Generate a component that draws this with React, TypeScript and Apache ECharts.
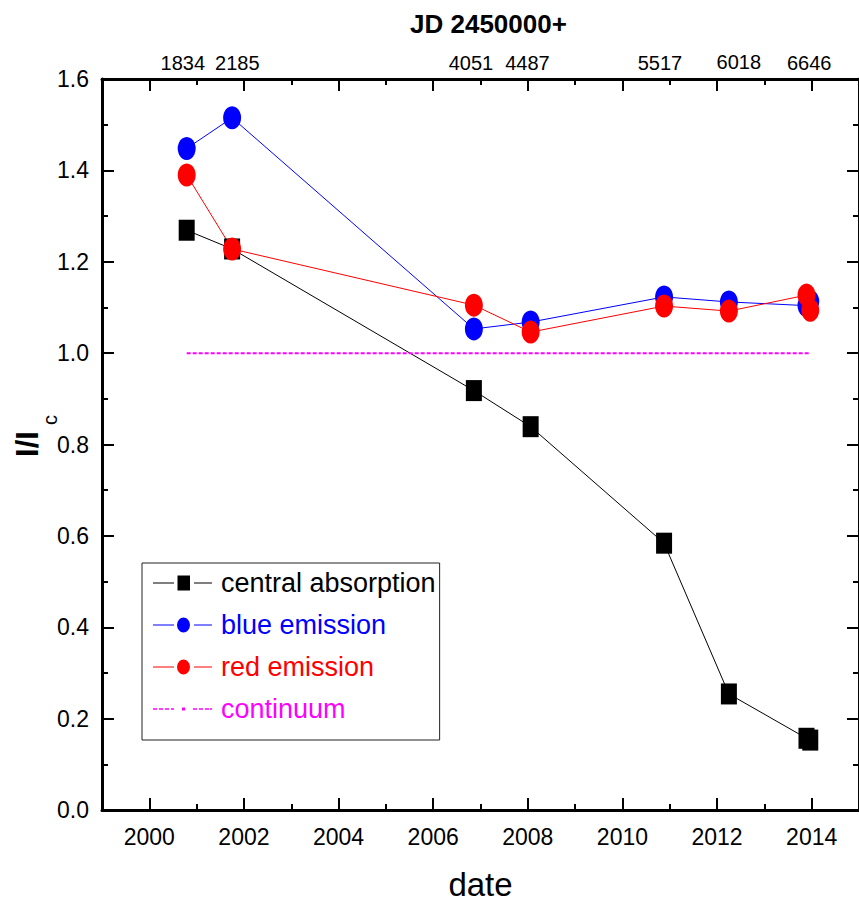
import React, { useEffect, useRef } from "react";
import * as echarts from "echarts";

// JD 2450000+ of the observations (top axis labels)
const jdLabels = [1834, 2185, 4051, 4487, 5517, 6018, 6646];
// observation dates (decimal years)
const dates = [2000.79, 2001.75, 2006.86, 2008.06, 2010.88, 2012.25, 2013.89, 2013.97];
const central = [1.269, 1.228, 0.918, 0.839, 0.584, 0.254, 0.157, 0.153];
const blue = [1.448, 1.515, 1.053, 1.068, 1.123, 1.112, 1.104, 1.113];
const red = [1.39, 1.228, 1.105, 1.046, 1.103, 1.092, 1.127, 1.094];
const continuumX = [2000.79, 2013.97];
const continuumY = [1.0, 1.0];
const yearTicks = [2000, 2002, 2004, 2006, 2008, 2010, 2012, 2014];
const seriesNames = ["central absorption", "blue emission", "red emission", "continuum"];

// horizontal / vertical nudges (px) of the top labels, as placed in the original figure
const jdLabelShiftX = [-4, 5, -3, -3, -4, 10, -1];
const jdLabelShiftY = [0, 0, 0, 0, 0, 1, 0];

const FONT = "'Liberation Sans', Arial, sans-serif";

// JD (2450000+) of 1999.0 and 2015.0
const jdMin = 1544.5 - 365.25;
const jdMax = 1544.5 + 15 * 365.25;

const anchors = "M0 0h0.01v0.01h-0.01z M58.99 15.99h0.01v0.01h-0.01z ";
const iconSquare = "path://" + anchors + "M0 7.5h21v1h-21z M41 7.5h18v1h-18z M24.5 0.5h12.5v15h-12.5z";
const iconCircle = "path://" + anchors + "M0 7.5h21v1h-21z M41 7.5h18v1h-18z M24 8A6.5 7.5 0 1 1 37 8A6.5 7.5 0 1 1 24 8Z";
const iconDash =
  "path://" + anchors +
  "M0 7.2h4v1.6h-4z M6 7.2h4v1.6h-4z M12 7.2h4v1.6h-4z M18 7.2h3v1.6h-3z M29 6.5h3v3h-3z M40 7.2h4v1.6h-4z M46 7.2h4v1.6h-4z M52 7.2h4v1.6h-4z M57 7.2h2v1.6h-2z";

const zip = (xs: number[], ys: number[]) => xs.map((x, i) => [x, ys[i]]);

export default function App() {
  const ref = useRef<HTMLDivElement>(null);
  useEffect(() => {
    document.body.style.margin = "0";
    const chart = echarts.init(ref.current!, undefined, { renderer: "svg" });
    const axisLine = { show: true, lineStyle: { color: "#000", width: 3 } };
    const noLine = { show: false };
    const minorTicks = { show: true, inside: true, length: 6, lineStyle: { color: "#000", width: 2 } };
    const majorTicks = { show: true, inside: true, length: 12, customValues: yearTicks, lineStyle: { color: "#000", width: 2 } };
    const baseX = { type: "value", min: 1999, max: 2015, interval: 1, splitLine: { show: false } };

    const jdRich: Record<string, any> = {};
    jdLabels.forEach((_, i) => {
      const sx = jdLabelShiftX[i];
      const sy = jdLabelShiftY[i];
      jdRich["j" + i] = {
        fontFamily: FONT,
        fontSize: 20,
        color: "#000",
        padding: [0, sx < 0 ? -2 * sx : 0, sy, sx > 0 ? 2 * sx : 0],
      };
    });

    chart.setOption({
      animation: false,
      title: {
        text: "JD 2450000+",
        left: 405,
        top: 6,
        textStyle: { fontFamily: FONT, fontSize: 26, fontWeight: "bold", color: "#000" },
      },
      grid: { left: 102, top: 79, width: 759, height: 731 },
      legend: {
        orient: "vertical",
        left: 142,
        top: 563,
        padding: [5, 4, 16, 11],
        itemGap: 12,
        itemWidth: 59,
        itemHeight: 16,
        borderColor: "#222",
        borderWidth: 1,
        backgroundColor: "#fff",
        selectedMode: false,
        textStyle: { fontFamily: FONT, fontSize: 27, lineHeight: 30, padding: [0, 0, 0, 4] },
        data: [
          { name: seriesNames[0], icon: iconSquare, textStyle: { color: "#000" }, itemStyle: { borderWidth: 0 } },
          { name: seriesNames[1], icon: iconCircle, textStyle: { color: "#0000ff" }, itemStyle: { borderWidth: 0 } },
          { name: seriesNames[2], icon: iconCircle, textStyle: { color: "#ff0000" }, itemStyle: { borderWidth: 0 } },
          { name: seriesNames[3], icon: iconDash, textStyle: { color: "#ff00ff" }, itemStyle: { borderWidth: 0 } },
        ],
      },
      xAxis: [
        {
          ...baseX,
          position: "bottom",
          axisLine,
          axisTick: minorTicks,
          axisLabel: { show: false },
          name: "date",
          nameLocation: "middle",
          nameGap: 58,
          nameTextStyle: { fontFamily: FONT, fontSize: 33, color: "#000" },
        },
        {
          ...baseX,
          position: "bottom",
          axisLine: noLine,
          axisTick: majorTicks,
          axisLabel: {
            show: true,
            customValues: yearTicks,
            hideOverlap: false,
            fontFamily: FONT,
            fontSize: 23,
            color: "#000",
            margin: 15,
            formatter: (v: number) => String(v),
          },
        },
        { ...baseX, position: "top", axisLine, axisTick: minorTicks, axisLabel: { show: false } },
        { ...baseX, position: "top", axisLine: noLine, axisTick: majorTicks, axisLabel: { show: false } },
        {
          type: "value",
          position: "top",
          min: jdMin,
          max: jdMax,
          splitLine: { show: false },
          axisLine: noLine,
          axisTick: { show: false },
          axisLabel: {
            show: true,
            customValues: jdLabels,
            hideOverlap: false,
            showMinLabel: true,
            showMaxLabel: true,
            fontFamily: FONT,
            fontSize: 20,
            color: "#000",
            margin: 6,
            formatter: (v: number) => {
              const i = jdLabels.indexOf(Math.round(v));
              return i >= 0 ? `{j${i}|${Math.round(v)}}` : String(v);
            },
            rich: jdRich,
          },
        },
      ],
      yAxis: [
        {
          type: "value",
          position: "left",
          min: 0,
          max: 1.6,
          interval: 0.2,
          splitLine: { show: false },
          axisLine,
          axisTick: { show: true, inside: true, length: 12, lineStyle: { color: "#000", width: 2 } },
          minorTick: { show: true, splitNumber: 2, length: 6, lineStyle: { color: "#000", width: 2 } },
          axisLabel: {
            fontFamily: FONT,
            fontSize: 23,
            color: "#000",
            margin: 13,
            formatter: (v: number) => v.toFixed(1),
          },
        },
        {
          type: "value",
          position: "right",
          min: 0,
          max: 1.6,
          interval: 0.2,
          splitLine: { show: false },
          axisLine,
          axisTick: { show: true, inside: true, length: 12, lineStyle: { color: "#000", width: 2 } },
          minorTick: { show: true, splitNumber: 2, length: 6, lineStyle: { color: "#000", width: 2 } },
          axisLabel: { show: false },
        },
      ],
      graphic: [
        {
          type: "text",
          x: 27,
          y: 444,
          rotation: Math.PI / 2,
          style: {
            text: "I/I",
            font: `bold 31px ${FONT}`,
            fill: "#000",
            textAlign: "center",
            textVerticalAlign: "middle",
          },
        },
        {
          type: "text",
          x: 50,
          y: 420,
          rotation: Math.PI / 2,
          style: {
            text: "c",
            font: `20px ${FONT}`,
            fill: "#000",
            textAlign: "center",
            textVerticalAlign: "middle",
          },
        },
      ],
      series: [
        {
          name: seriesNames[0],
          type: "line",
          data: zip(dates, central),
          symbol: "rect",
          symbolSize: [16, 21],
          itemStyle: { color: "#000" },
          lineStyle: { color: "#000", width: 1 },
        },
        {
          name: seriesNames[1],
          type: "line",
          data: zip(dates, blue),
          symbol: "circle",
          symbolSize: [18, 23],
          itemStyle: { color: "#0000ff" },
          lineStyle: { color: "#0000ff", width: 1 },
        },
        {
          name: seriesNames[2],
          type: "line",
          data: zip(dates, red),
          symbol: "circle",
          symbolSize: [18, 23],
          itemStyle: { color: "#ff0000" },
          lineStyle: { color: "#ff0000", width: 1 },
        },
        {
          name: seriesNames[3],
          type: "line",
          data: zip(continuumX, continuumY),
          symbol: "none",
          itemStyle: { color: "#ff00ff" },
          lineStyle: { color: "#ff00ff", width: 2, type: [4, 2] },
        },
      ],
    });
    return () => chart.dispose();
  }, []);
  return <div ref={ref} style={{ width: 859, height: 909 }} />;
}
